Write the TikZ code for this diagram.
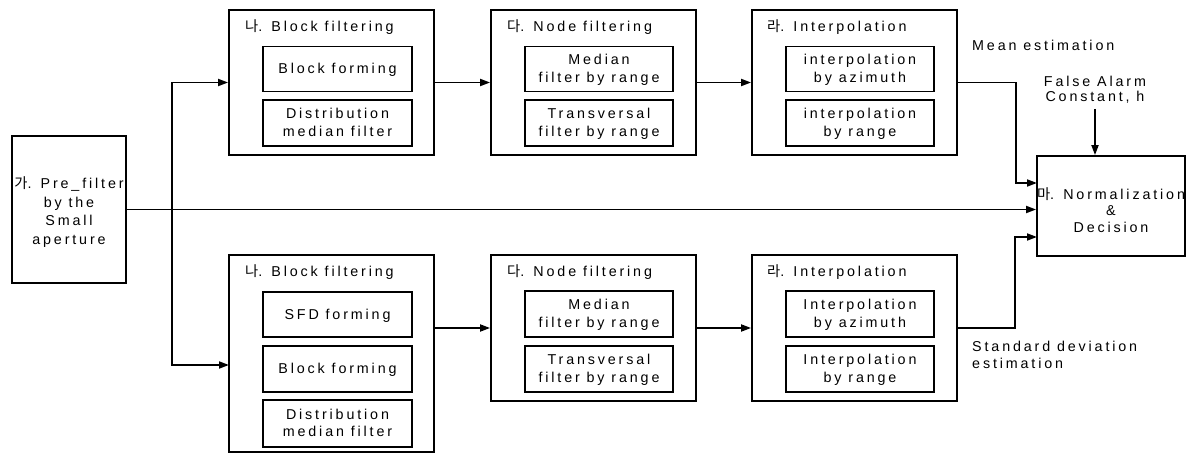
\documentclass[tikz,border=0pt]{standalone}
\usepackage{fontspec}
\setmainfont{Liberation Sans}[LetterSpace=20]
\newfontfamily\kr{Noto Sans CJK KR}
\usetikzlibrary{arrows.meta,calc}
\begin{document}
\begin{tikzpicture}[x=1pt,y=-1pt,
  font=\fontsize{14.3}{17.5}\selectfont,
  outer/.style={draw, line width=1.8pt, minimum width=205pt, inner sep=0pt},
  inbox/.style={draw, line width=1.8pt, minimum width=149pt, minimum height=45pt, align=center, inner sep=0pt, text depth=1pt},
  ttl/.style={anchor=west, inner sep=0pt},
  arr/.style={line width=1.8pt, -{Triangle[length=10pt,width=7pt]}},
  ln/.style={line width=1.8pt}]
\useasboundingbox (0,0) rectangle (1187,454);

% ---- top branch ----
\node[outer, minimum height=145pt] (tb) at (331.5,82.5) {};
\node[ttl] (tbt) at (245,27) {{\kr 나}. Block filtering};
\node[inbox] (tb1) at (337.5,69) {Block forming};
\node[inbox, minimum height=46pt] (tb2) at (337.5,123) {Distribution\\median filter};

\node[outer, minimum height=145pt] (tn) at (593.5,82.5) {};
\node[ttl] (tnt) at (507,27) {{\kr 다}. Node filtering};
\node[inbox, minimum width=148pt] (tn1) at (599,69) {Median\\filter by range};
\node[inbox, minimum width=148pt, minimum height=46pt] (tn2) at (599,123) {Transversal\\filter by range};

\node[outer, minimum height=145pt] (ti) at (854.5,82.5) {};
\node[ttl] (tit) at (767,27) {{\kr 라}. Interpolation};
\node[inbox, minimum width=148pt] (ti1) at (860,69) {interpolation\\by azimuth};
\node[inbox, minimum width=148pt, minimum height=46pt] (ti2) at (860,123) {interpolation\\by range};

% ---- bottom branch ----
\node[outer, minimum height=197pt] (bb) at (331.5,353.5) {};
\node[ttl] (bbt) at (245,272) {{\kr 나}. Block filtering};
\node[inbox] (bb1) at (337.5,314.5) {SFD forming};
\node[inbox, minimum height=46pt] (bb2) at (337.5,369) {Block forming};
\node[inbox, minimum height=47pt] (bb3) at (337.5,423.5) {Distribution\\median filter};

\node[outer, minimum height=146pt] (bn) at (593.5,328) {};
\node[ttl] (bnt) at (507,272) {{\kr 다}. Node filtering};
\node[inbox, minimum width=148pt, minimum height=46pt] (bn1) at (599,314) {Median\\filter by range};
\node[inbox, minimum width=148pt, minimum height=46pt] (bn2) at (599,369) {Transversal\\filter by range};

\node[outer, minimum height=146pt] (bi) at (854.5,328) {};
\node[ttl] (bit) at (767,272) {{\kr 라}. Interpolation};
\node[inbox, minimum width=148pt, minimum height=46pt] (bi1) at (860,314) {Interpolation\\by azimuth};
\node[inbox, minimum width=148pt, minimum height=46pt] (bi2) at (860,369) {Interpolation\\by range};

% ---- pre filter ----
\node[draw, line width=1.8pt, minimum width=114pt, minimum height=147pt, inner sep=0pt] (pre) at (69,209.5) {};
\node[align=center, inner sep=0pt, font=\fontsize{14.3}{18.5}\selectfont] (pret) at (69,212) {{\kr 가}. Pre\_filter\\by the\\Small\\aperture};

% ---- normalization ----
\node[draw, line width=1.8pt, minimum width=148pt, minimum height=100pt, inner sep=0pt] (norm) at (1111,206) {};
\node[align=center, inner sep=0pt, font=\fontsize{14.3}{16.5}\selectfont] (normt) at (1111,210) {{\kr 마}. Normalization\\\&\\Decision};

\node[align=center, inner sep=0pt, font=\fontsize{14.3}{15}\selectfont] (fa) at (1095,90) {False Alarm\\Constant, h};
\node[anchor=west, inner sep=0pt] (me) at (972,45) {Mean estimation};
\node[anchor=west, align=left, inner sep=0pt] (sd) at (972,355) {Standard deviation\\estimation};

% ---- connectors ----
\draw[arr] (tb.east) -- (tn.west);
\draw[arr] (tn.east) -- (ti.west);
\draw[arr] (bn.west -| bb.east) -- (bn.west);
\draw[arr] (bn.east) -- (bi.west);

\draw[arr] (pre.east) -- (pre.east -| norm.west);
\coordinate (br) at (172,209.5);
\coordinate (bbin) at (229,365);
\draw[arr] (br) |- (tb.west);
\draw[arr] (br) |- (bbin);

\coordinate (n1) at (1037,183);
\coordinate (n3) at (1037,237);
\draw[arr] (ti.east) -- ++(58,0) |- (n1);
\draw[arr] (bi.east) -- ++(57,0) |- (n3);

\draw[arr] ($(fa.south)+(0,5)$) -- (norm.north -| fa.south);
\end{tikzpicture}
\end{document}
